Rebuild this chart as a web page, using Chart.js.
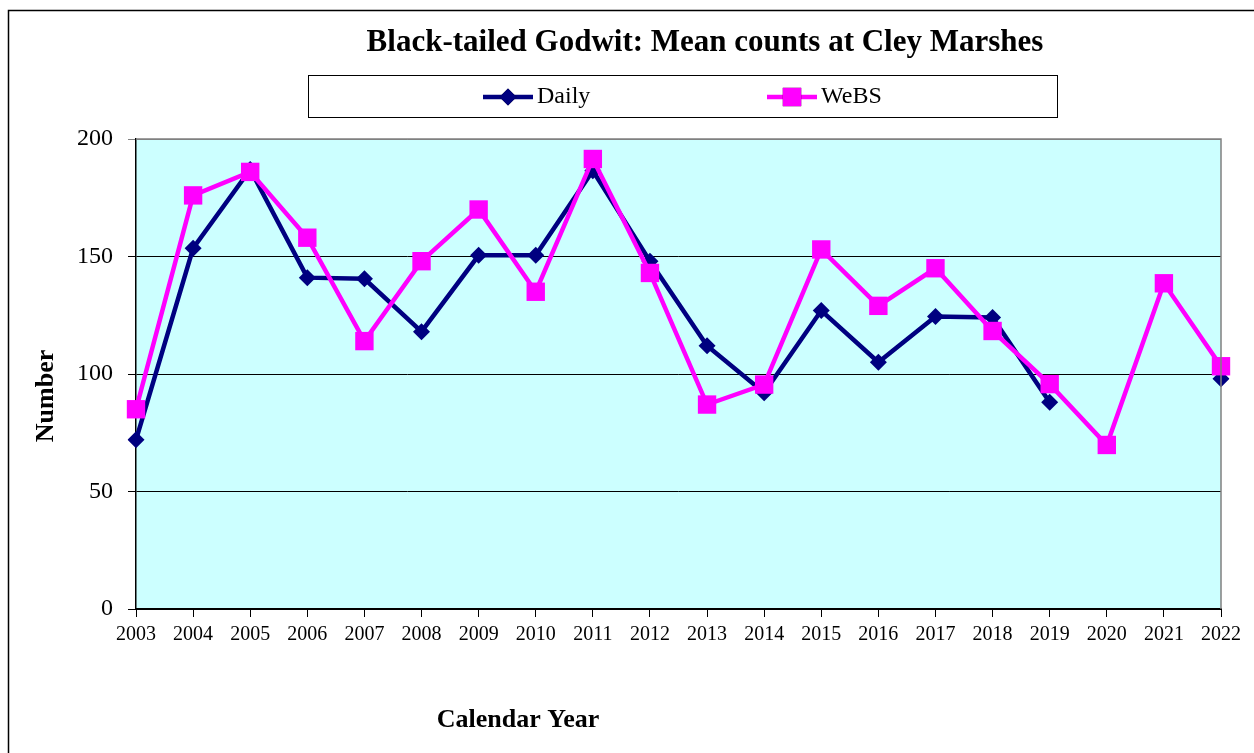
<!DOCTYPE html>
<html>
<head>
<meta charset="utf-8">
<title>Black-tailed Godwit: Mean counts at Cley Marshes</title>
<script src="https://cdn.jsdelivr.net/npm/chart.js@4.4.1/dist/chart.umd.min.js"></script>
<style>
    body { margin: 0; background: #fff; }
    canvas { display: block; }
</style>
</head>
<body>
<canvas id="myChart" width="1254" height="753"></canvas>
<script>
// graph data
let years = ['2003', '2004', '2005', '2006', '2007', '2008', '2009', '2010', '2011', '2012',
    '2013', '2014', '2015', '2016', '2017', '2018', '2019', '2020', '2021', '2022'];

let daily = [72, 153.5, 187, 141, 140.5, 118, 150.5, 150.5, 186.5, 148,
    112, 92, 127, 105, 124.5, 124, 88, null, null, 98];

let webs = [85, 176, 186, 158, 114, 148, 170, 135, 191.5, 143,
    87, 95.5, 153, 129, 145, 118.3, 95.7, 69.8, 138.6, 103.3];

let yTicks = [0, 50, 100, 150, 200];

const FONT = "'Liberation Serif', 'Times New Roman', serif";

// background, frame, title, legend and axis titles
const decor = {
    id: 'decor',
    beforeDraw(chart) {
        const c = chart.ctx, a = chart.chartArea;
        c.save();
        c.fillStyle = '#fff';
        c.fillRect(0, 0, chart.width, chart.height);
        c.fillStyle = '#ccffff';
        c.fillRect(a.left, a.top, a.right - a.left, a.bottom - a.top);
        c.restore();
    },
    afterDraw(chart) {
        const c = chart.ctx, a = chart.chartArea;
        c.save();
        // outer frame
        c.strokeStyle = '#000';
        c.lineWidth = 1.5;
        c.strokeRect(8.5, 10.5, chart.width + 10, chart.height + 10);
        // plot frame top/right
        c.strokeStyle = '#808080';
        c.lineWidth = 1.5;
        c.beginPath();
        c.moveTo(a.left, a.top);
        c.lineTo(a.right, a.top);
        c.lineTo(a.right, a.bottom);
        c.stroke();

        // title
        c.fillStyle = '#000';
        c.textAlign = 'center';
        c.textBaseline = 'middle';
        c.font = 'bold 31px ' + FONT;
        c.fillText('Black-tailed Godwit: Mean counts at Cley Marshes', 705, 43);

        // legend box
        c.strokeStyle = '#000';
        c.lineWidth = 1;
        c.strokeRect(308.5, 75.5, 749, 42);
        const itemX = [483, 767];
        chart.data.datasets.forEach((ds, i) => {
            const x = itemX[i], y = 97;
            c.strokeStyle = ds.borderColor;
            c.lineWidth = ds.borderWidth;
            c.beginPath();
            c.moveTo(x, y);
            c.lineTo(x + 50, y);
            c.stroke();
            Chart.helpers.drawPoint(c, {
                pointStyle: ds.pointStyle,
                radius: ds.pointRadius,
                borderWidth: 0
            }, x + 25, y);
            c.fillStyle = ds.borderColor;
            c.fill();
            c.fillStyle = '#000';
            c.textAlign = 'left';
            c.font = '24px ' + FONT;
            c.fillText(ds.label, x + 54, y);
        });

        // axis titles
        c.font = 'bold 26px ' + FONT;
        c.textAlign = 'center';
        c.fillText('Calendar Year', 518, 720);
        c.translate(46, 396);
        c.rotate(-Math.PI / 2);
        c.fillText('Number', 0, 0);
        c.restore();
    }
};

let ctx = document.getElementById('myChart');

let myChart = new Chart(ctx, {
    type: 'line',
    data: {
        labels: years,
        datasets: [{
            label: 'Daily',
            data: daily,
            borderColor: '#000080',
            backgroundColor: '#000080',
            borderWidth: 4.5,
            pointStyle: 'rectRot',
            pointRadius: 8.5,
            pointHoverRadius: 8.5,
            pointBorderWidth: 0,
            tension: 0,
            spanGaps: false,
            order: 1
        }, {
            label: 'WeBS',
            data: webs,
            borderColor: '#ff00ff',
            backgroundColor: '#ff00ff',
            borderWidth: 4.5,
            pointStyle: 'rect',
            pointRadius: 13,
            pointHoverRadius: 13,
            pointBorderWidth: 0,
            tension: 0,
            order: 0
        }]
    },
    options: {
        responsive: false,
        animation: false,
        events: [],
        layout: {padding: {left: 0, right: 33, top: 139, bottom: 0}},
        plugins: {
            legend: {display: false},
            title: {display: false},
            tooltip: {enabled: false}
        },
        scales: {
            x: {
                offset: false,
                afterFit: s => { s.height = 144; },
                grid: {drawOnChartArea: false, drawTicks: true, tickLength: 8, color: '#000', lineWidth: 1},
                border: {color: '#000', width: 2},
                ticks: {
                    autoSkip: false, maxRotation: 0, padding: 6, color: '#000',
                    font: {family: FONT, size: 20}
                }
            },
            y: {
                min: yTicks[0],
                max: yTicks[yTicks.length - 1],
                afterFit: s => { s.width = 136; },
                afterBuildTicks: s => { s.ticks = yTicks.map(v => ({value: v})); },
                grid: {
                    color: c => (c.tick && c.tick.value === 200 ? '#808080' : '#000'),
                    lineWidth: 1, tickLength: 8
                },
                border: {color: '#000', width: 1.5},
                ticks: {
                    padding: 15, color: '#000',
                    font: {family: FONT, size: 24}
                }
            }
        }
    },
    plugins: [decor]
});
</script>
</body>
</html>
